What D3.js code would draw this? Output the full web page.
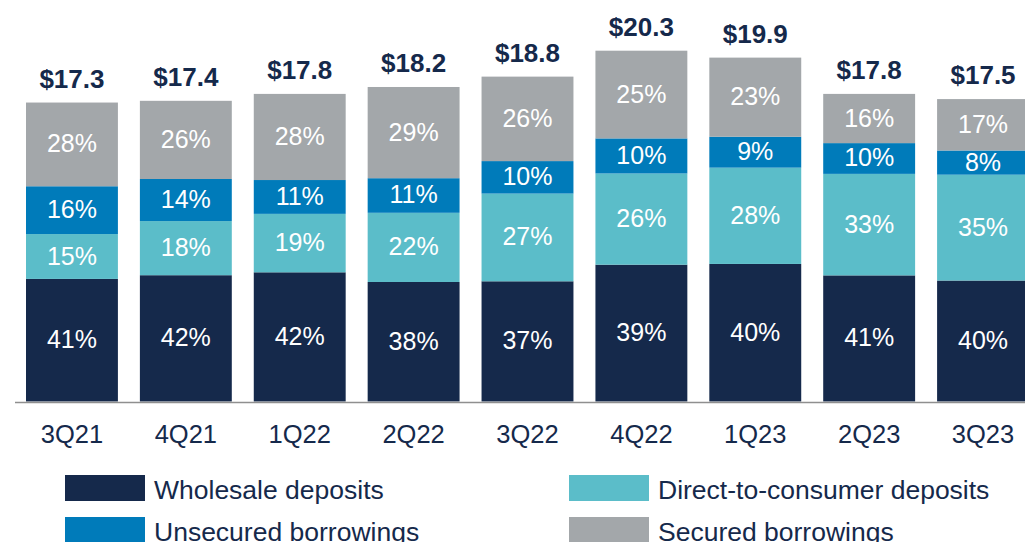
<!DOCTYPE html>
<html>
<head>
<meta charset="utf-8">
<script src="https://cdn.jsdelivr.net/npm/d3@7"></script>
<style>
  html, body { margin: 0; padding: 0; background: #fff; }
  svg { display: block; font-family: "Liberation Sans", Arial, sans-serif; }
</style>
</head>
<body>
<div id="chart"></div>
<script>
// quarters and funding mix (% of total, $B totals)
const quarters = ['3Q21', '4Q21', '1Q22', '2Q22', '3Q22', '4Q22', '1Q23', '2Q23', '3Q23']
const totals = [17.3, 17.4, 17.8, 18.2, 18.8, 20.3, 19.9, 17.8, 17.5]
const wholesale = [41, 42, 42, 38, 37, 39, 40, 41, 40]
const directToConsumer = [15, 18, 19, 22, 27, 26, 28, 33, 35]
const unsecured = [16, 14, 11, 11, 10, 10, 9, 10, 8]
const secured = [28, 26, 28, 29, 26, 25, 23, 16, 17]

const seriesNames = ['Wholesale deposits', 'Direct-to-consumer deposits', 'Unsecured borrowings', 'Secured borrowings']
const seriesPct = [wholesale, directToConsumer, unsecured, secured]
const colours = ['#15294b', '#5bbdc9', '#007bba', '#a3a7aa']

const width = 1025
const height = 542
const navyText = '#15294b'

// one row per quarter, segment values in $B
const rows = quarters.map((q, i) => {
  const row = { quarter: q, total: totals[i] }
  seriesNames.forEach((s, j) => { row[s] = totals[i] * seriesPct[j][i] / 100; row[s + '_pct'] = seriesPct[j][i] })
  return row
})

const stacked = d3.stack().keys(seriesNames)(rows)

const svg = d3.select('#chart')
  .append('svg')
  .attr('width', width)
  .attr('height', height)

const x = d3.scaleBand()
  .domain(quarters)
  .range([15, 1040])
  .paddingInner(0.193)
  .paddingOuter(0.0966)

const y = d3.scaleLinear()
  .domain([0, 20.3])
  .range([401.5, 50.7])

// bar segments
const layers = svg.selectAll('g.layer')
  .data(stacked)
  .enter()
  .append('g')
  .attr('class', 'layer')
  .style('fill', (d, i) => colours[i])

layers.selectAll('rect')
  .data(d => d)
  .enter()
  .append('rect')
  .attr('x', d => x(d.data.quarter))
  .attr('y', d => y(d[1]))
  .attr('width', x.bandwidth())
  .attr('height', d => y(d[0]) - y(d[1]))

// percent labels inside segments
stacked.forEach(layer => {
  svg.append('g')
    .selectAll('text')
    .data(layer)
    .enter()
    .append('text')
    .attr('x', d => x(d.data.quarter) + x.bandwidth() / 2)
    .attr('y', d => (y(d[0]) + y(d[1])) / 2 - 1)
    .attr('text-anchor', 'middle')
    .attr('dominant-baseline', 'central')
    .style('fill', '#fff')
    .style('font-size', '25px')
    .text(d => d.data[layer.key + '_pct'] + '%')
})

// totals above bars
svg.append('g')
  .selectAll('text')
  .data(rows)
  .enter()
  .append('text')
  .attr('x', d => x(d.quarter) + x.bandwidth() / 2)
  .attr('y', d => y(d.total) - 15)
  .attr('text-anchor', 'middle')
  .style('fill', navyText)
  .style('font-size', '26px')
  .style('font-weight', 'bold')
  .text(d => '$' + d3.format('.1f')(d.total))

// x axis
const xAxis = svg.append('g')
  .attr('transform', 'translate(0,402)')
  .call(d3.axisBottom(x).tickSize(0).tickPadding(0))

xAxis.select('.domain')
  .attr('d', 'M15,0.5H1025')
  .style('stroke', '#8f8f8f')
  .style('stroke-width', 1.5)

xAxis.selectAll('text')
  .attr('dy', null)
  .attr('y', 41)
  .style('fill', navyText)
  .style('font-size', '25.5px')
  .style('font-family', '"Liberation Sans", Arial, sans-serif')

// legend
const legendPos = [[65, 475], [569, 475], [65, 517], [569, 517]]
const legendOrder = [0, 1, 2, 3]

const legend = svg.append('g')
  .selectAll('g')
  .data(legendOrder)
  .enter()
  .append('g')
  .attr('transform', (d, i) => `translate(${legendPos[i][0]},${legendPos[i][1]})`)

legend.append('rect')
  .attr('width', 80)
  .attr('height', 26)
  .style('fill', d => colours[d])

legend.append('text')
  .attr('x', 89)
  .attr('y', 24)
  .style('fill', navyText)
  .style('font-size', '26.5px')
  .text(d => seriesNames[d])
</script>
</body>
</html>
